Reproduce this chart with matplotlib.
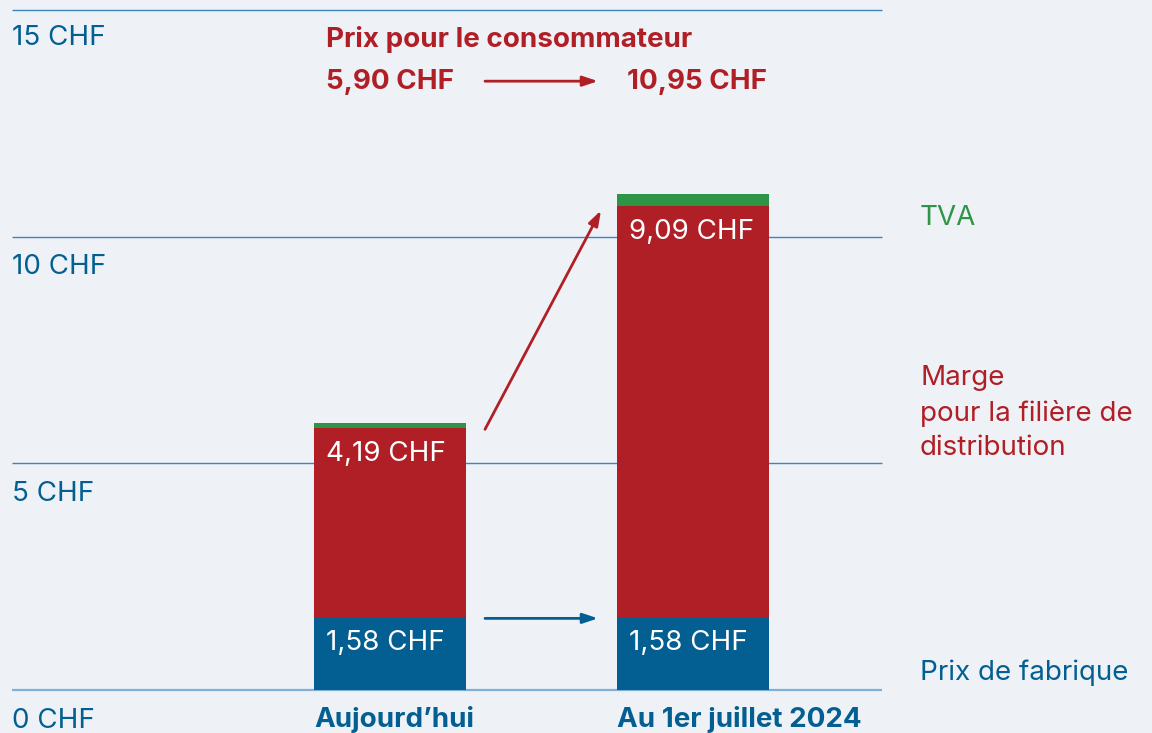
import numpy as np
import matplotlib.pyplot as plt

plt.rcParams['font.family'] = ['Inter', 'DejaVu Sans']

categories = ['Aujourd\u2019hui', 'Au 1er juillet 2024']
prix_fabrique = [1.58, 1.58]
marge = [4.19, 9.09]
prix_total = [5.90, 10.95]
tva = [t - f - m for t, f, m in zip(prix_total, prix_fabrique, marge)]
tick_vals = [0, 5, 10, 15]
tick_labels = ['0 CHF', '5 CHF', '10 CHF', '15 CHF']

def chf(v):
    return f'{v:.2f}'.replace('.', ',') + ' CHF'

BG = '#eef2f7'
BLUE = '#035f91'
RED = '#b01f25'
GREEN = '#2e9547'
GRID = '#3a86c2'
FS = 20

W, H = 1152, 733
fig = plt.figure(figsize=(W / 100, H / 100), dpi=100, facecolor=BG)
ax = fig.add_axes([0, 0, 1, 1], facecolor=BG)

# pixel mapping: bar centres 390 / 693 px, y=0 at 690 px, 15 at 10 px
ppx = 303.0
ppy = 680 / 15.0
ax.set_xlim(-390 / ppx, (W - 390) / ppx)
ax.set_ylim(-(H - 690) / ppy, 15 + 10 / ppy)
ax.axis('off')

x = np.arange(len(categories))
bw = 152 / ppx

# grid lines
gx0, gx1 = (12 - 390) / ppx, (882 - 390) / ppx
for v, lab in zip(tick_vals, tick_labels):
    if v == 0:
        ax.hlines(v, gx0, gx1, color='#7fb1d8', lw=1.6, zorder=1)
    else:
        ax.hlines(v, gx0, gx1, color=GRID, lw=1.0, zorder=1)
    off = 0.62 if v == 15 else 0.68
    ax.text(gx0, v - off, lab, color=BLUE, fontsize=FS, ha='left', va='center')

# stacked bars
ax.bar(x, prix_fabrique, bw, color=BLUE, zorder=2)
ax.bar(x, marge, bw, bottom=prix_fabrique, color=RED, zorder=2)
bot2 = [f + m for f, m in zip(prix_fabrique, marge)]
ax.bar(x, tva, bw, bottom=bot2, color=GREEN, zorder=2)

pad = 12 / ppx
for i in range(len(x)):
    left = x[i] - bw / 2 + pad
    ax.text(left, prix_fabrique[i] - 0.55, chf(prix_fabrique[i]), color='white',
            fontsize=FS, ha='left', va='center', zorder=3)
    ax.text(left, bot2[i] - 0.56, chf(marge[i]), color='white',
            fontsize=FS, ha='left', va='center', zorder=3)
    ax.text(x[i] - bw / 2, -0.66, categories[i], color=BLUE, fontsize=FS,
            fontweight='bold', ha='left', va='center')

# arrows between bars
ax0 = x[0] + bw / 2 + 19 / ppx
ax1 = x[1] - bw / 2 - 19 / ppx
ax.annotate('', xy=(ax1, prix_fabrique[1]), xytext=(ax0, prix_fabrique[0]),
            arrowprops=dict(arrowstyle='-|>,head_length=0.9,head_width=0.3',
                            color=BLUE, lw=2, shrinkA=0, shrinkB=0))
ax.annotate('', xy=(x[1] - bw / 2 - 16 / ppx, prix_total[1] - 0.37),
            xytext=(ax0, prix_total[0] - 0.15),
            arrowprops=dict(arrowstyle='-|>,head_length=0.9,head_width=0.3',
                            color=RED, lw=2, shrinkA=0, shrinkB=0))

# title block
tx0 = x[0] - bw / 2 + pad
ax.text(tx0, 15 - 0.64, 'Prix pour le consommateur', color=RED, fontsize=FS,
        fontweight='bold', ha='left', va='center')
ax.text(tx0, 15 - 1.58, chf(prix_total[0]), color=RED, fontsize=FS,
        fontweight='bold', ha='left', va='center')
ax.text(x[1] - bw / 2 + 10 / ppx, 15 - 1.58, chf(prix_total[1]), color=RED,
        fontsize=FS, fontweight='bold', ha='left', va='center')
ax.annotate('', xy=(ax1, 15 - 1.57), xytext=(ax0, 15 - 1.57),
            arrowprops=dict(arrowstyle='-|>,head_length=0.9,head_width=0.3',
                            color=RED, lw=2, shrinkA=0, shrinkB=0))

# right side legend labels
lx = (920 - 390) / ppx
ax.text(lx, (690 - 218) / ppy, 'TVA', color=GREEN, fontsize=FS, ha='left', va='center')
ax.text(lx, (690 - 413) / ppy, 'Marge\npour la fili\u00e8re de\ndistribution', color=RED,
        fontsize=FS, ha='left', va='center', linespacing=1.4)
ax.text(lx, (690 - 673) / ppy, 'Prix de fabrique', color=BLUE, fontsize=FS,
        ha='left', va='center')

fig.savefig('out.png', dpi=100, facecolor=BG)
